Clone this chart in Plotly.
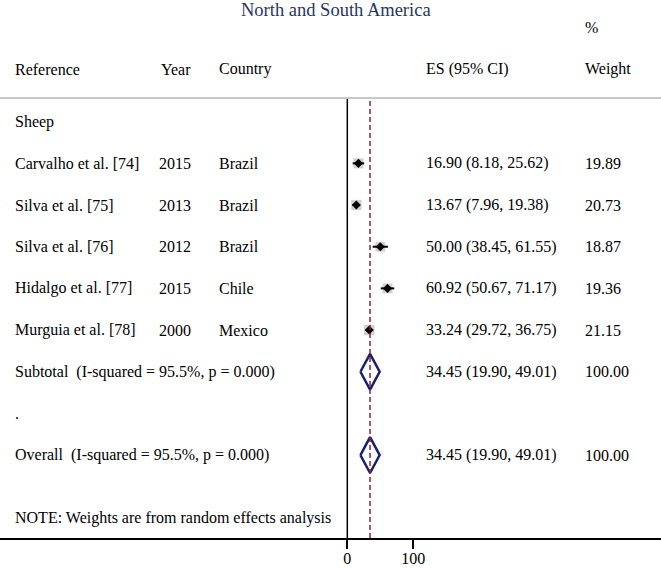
import plotly.graph_objects as go

# ---- data ----
title = "North and South America"
group_label = "Sheep"
refs = ["Carvalho et al. [74]", "Silva et al. [75]", "Silva et al. [76]",
        "Hidalgo et al. [77]", "Murguia et al. [78]"]
years = [2015, 2013, 2012, 2015, 2000]
countries = ["Brazil", "Brazil", "Brazil", "Chile", "Mexico"]
es = [16.90, 13.67, 50.00, 60.92, 33.24]
ci_lo = [8.18, 7.96, 38.45, 50.67, 29.72]
ci_hi = [25.62, 19.38, 61.55, 71.17, 36.75]
weights = [19.89, 20.73, 18.87, 19.36, 21.15]
pooled_es = 34.45
pooled_lo = 19.90
pooled_hi = 49.01
i_squared = 95.5
p_value = 0.000
x_ticks = [0, 100]
note = "NOTE: Weights are from random effects analysis"

# ---- layout geometry (pixels) ----
W, H = 661, 568
TOP, BOT = 98, 538          # separator line and axis line
ROW0, ROWH = 121.7, 41.67   # first row centre and row pitch
PX0, PX_PER_UNIT = 347.3, 0.66

def krow(py):
    return (py - ROW0) / ROWH

def px(x):
    return x / W

def py_paper(py):
    return (BOT - py) / (BOT - TOP)

xmin = -PX0 / PX_PER_UNIT
xmax = (W - PX0) / PX_PER_UNIT

FONT = "Liberation Serif, Times New Roman, serif"
FS = 16
NAVY = "#1C1F6B"
MAROON = "#8E2436"

fig = go.Figure()

study_rows = list(range(1, len(refs) + 1))
sub_row = len(refs) + 1
dot_row = sub_row + 1
overall_row = dot_row + 1
note_row = overall_row + 1.5

# grey weight boxes
fig.add_trace(go.Scatter(
    x=es, y=study_rows, mode="markers",
    marker=dict(symbol="square", size=[2.25 * w ** 0.5 for w in weights],
                color="#BDBDBD", line=dict(width=0)),
    hoverinfo="skip", showlegend=False))

# CI lines
for e, lo, hi, r in zip(es, ci_lo, ci_hi, study_rows):
    fig.add_trace(go.Scatter(
        x=[lo, hi], y=[r, r], mode="lines",
        line=dict(color="black", width=2), hoverinfo="skip", showlegend=False))

# point estimates
fig.add_trace(go.Scatter(
    x=es, y=study_rows, mode="markers",
    marker=dict(symbol="diamond", size=7, color="black"),
    hoverinfo="skip", showlegend=False))

# pooled diamonds
for r in [sub_row, overall_row]:
    h = 0.43
    fig.add_trace(go.Scatter(
        x=[pooled_lo, pooled_es, pooled_hi, pooled_es, pooled_lo],
        y=[r, r - h, r, r + h, r], mode="lines",
        line=dict(color=NAVY, width=2.5), hoverinfo="skip", showlegend=False))

# dashed line at pooled estimate
fig.add_shape(type="line", xref="x", yref="paper", x0=pooled_es, x1=pooled_es,
              y0=0, y1=1, line=dict(color=MAROON, width=1.5, dash="5px,3px"))
# null line at 0
fig.add_shape(type="line", xref="x", yref="paper", x0=0, x1=0,
              y0=0, y1=1, line=dict(color="black", width=1.5))
# grey header separator
fig.add_shape(type="line", xref="paper", yref="paper", x0=0, x1=1,
              y0=1, y1=1, line=dict(color="#C8C8C8", width=2))

anns = []

def txt(text, x_px, y, yref="y", xanchor="left", size=FS, color="black"):
    anns.append(dict(text=text, x=px(x_px), xref="paper", y=y, yref=yref,
                     xanchor=xanchor, yanchor="middle", showarrow=False,
                     font=dict(family=FONT, size=size, color=color)))

# title and headers
txt(title, 336, py_paper(10), yref="paper", xanchor="center", size=18.5, color="#1F3566")
txt("%", 582.7, py_paper(27), yref="paper")
hy = py_paper(69.3)
txt("Reference", 12.7, hy, yref="paper")
txt("Year", 193.3, hy, yref="paper", xanchor="right")
txt("Country", 216.7, hy, yref="paper")
txt("ES (95% CI)", 424, hy, yref="paper")
txt("Weight", 582.7, hy, yref="paper")

txt(group_label, 12.7, 0)
for r, ref, yr, c, e, lo, hi, w in zip(study_rows, refs, years, countries, es, ci_lo, ci_hi, weights):
    txt(ref, 12.7, r)
    txt(str(yr), 193.3, r, xanchor="right")
    txt(c, 216.7, r)
    txt(f"{e:.2f} ({lo:.2f}, {hi:.2f})", 424, r)
    txt(f"{w:.2f}", 582.7, r)

het = f"(I-squared = {i_squared:.1f}%, p = {p_value:.3f})"
pooled_txt = f"{pooled_es:.2f} ({pooled_lo:.2f}, {pooled_hi:.2f})"
txt("Subtotal\u00a0 " + het, 12.7, sub_row)
txt(pooled_txt, 424, sub_row)
txt(f"{100:.2f}", 582.7, sub_row)
txt(".", 12.7, dot_row)
txt("Overall\u00a0 " + het, 12.7, overall_row)
txt(pooled_txt, 424, overall_row)
txt(f"{100:.2f}", 582.7, overall_row)
txt(note, 12.7, note_row)

fig.update_layout(
    width=W, height=H,
    margin=dict(l=0, r=0, t=TOP, b=H - BOT, pad=0),
    paper_bgcolor="white", plot_bgcolor="white",
    annotations=anns,
    xaxis=dict(range=[xmin, xmax], tickvals=x_ticks, ticktext=[str(t) for t in x_ticks],
               ticks="outside", ticklen=9, tickwidth=1.5, tickcolor="black",
               ticklabelstandoff=-4,
               showline=True, linecolor="black", linewidth=1.5,
               showgrid=False, zeroline=False, automargin=False,
               tickfont=dict(family=FONT, size=FS, color="black")),
    yaxis=dict(range=[krow(BOT), krow(TOP)], visible=False, showgrid=False,
               zeroline=False, automargin=False),
)

fig.write_html("out.html", config={"displayModeBar": False},
               post_script="document.body.style.margin='0';document.body.style.overflow='hidden';")
